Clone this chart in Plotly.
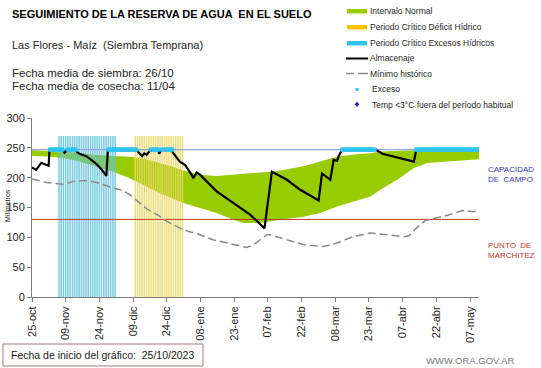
import datetime as dt
import plotly.graph_objects as go

# ---------------- data ----------------
start_date = dt.date(2023, 10, 25)
tick_days = [0, 15, 30, 45, 60, 75, 90, 105, 120, 135, 150, 165, 180, 195]
month_abbr = ["ene", "feb", "mar", "abr", "may", "jun", "jul", "ago", "sep", "oct", "nov", "dic"]

capacidad_campo = 247
punto_marchitez = 130
stripe_top = 270

band_days = [0, 7.8, 13.8, 21.2, 28.7, 36.1, 43.5, 51, 57, 62, 67.3, 74.8, 82.2, 89.6, 94.1,
             101.6, 106, 110.5, 120.9, 128.3, 135.8, 143.2, 150.7, 155.1, 162.6, 170, 176,
             184.9, 192, 199]
band_upper = [246, 245, 244, 241, 238, 236.5, 235, 231, 225, 219, 212, 205, 203, 205, 206,
              208, 210, 212, 219, 227, 235, 239, 241, 244, 245.5, 246, 246.5, 247, 247, 247]
band_lower = [236.5, 235.5, 233, 227, 219, 210, 199, 185, 174, 166, 157.5, 149, 140.7, 129.5,
              124, 124, 127, 129.5, 134.7, 140.6, 151.8, 160, 168.5, 179.7, 196.5, 216, 224.4,
              227, 229, 231]

alm_days = [0, 1.9, 4.1, 6.3, 7.4, 7.8, 13.6, 14.5, 15.5, 16, 19, 19.7, 21.2, 24.2, 26.4, 28.7,
            30.9, 33.1, 33.8, 46.5, 47.5, 49, 50, 51, 52, 53, 56.2, 56.6, 57.4, 57.7, 62.1,
            62.9, 65.8, 68.1, 71.1, 71.8, 73.3, 74.8, 82.2, 89.6, 97.1, 103, 103.5, 106.8,
            113.5, 119.4, 127.6, 129.1, 132.8, 134.3, 135.8, 136.5, 138, 152.9, 155.1, 156,
            170, 171.1, 199]
alm_vals = [217, 213, 225, 221.6, 220, 247, 247, 242, 245, 247, 247, 244, 240, 236, 230, 223,
            214, 203, 247, 247, 242, 236, 241, 238, 243, 247, 247, 240, 245, 247, 247,
            241, 227, 221.6, 204.7, 199, 208.7, 205, 177, 157, 138, 117, 115, 210,
            196.5, 179.7, 161.8, 207, 196.5, 230, 228, 235.5, 247, 247, 241, 240,
            227, 247, 247]

min_days = [0, 6.3, 13.8, 18.2, 24.2, 28.7, 36.1, 40.5, 43.5, 51, 56.9, 59.9, 67.3, 74.8, 80.5,
            89.6, 95.6, 98.6, 104.5, 106, 113.5, 120.9, 129.8, 135.8, 143.2, 150.7, 158.1,
            165.5, 168, 171, 175, 180, 185, 191.6, 196.8, 199]
min_vals = [198, 192, 189, 193.7, 195.4, 192, 182.6, 178.6, 171.4, 148, 135, 127, 112.7, 104.4,
            96, 87.6, 83, 87.6, 104.4, 104.4, 96, 87.6, 84.8, 90.5, 101.5, 107.2, 104.4,
            101, 103, 115, 128, 132, 137, 145, 143, 147]

exceso_days = ([d for d in range(8, 14)] + [d for d in range(16, 20)] + [d for d in range(34, 47)]
               + [d for d in range(53, 57)] + [d for d in range(58, 63)]
               + [d for d in range(138, 153)] + [d for d in range(171, 200)])
exceso_half = [d + 0.5 for d in exceso_days if d < 199]

excesos_period_days = list(range(12, 38))
deficit_period_days = list(range(46, 68))

# ---------------- colours ----------------
GREEN = "#99cc00"
YELLOW = "#ecd865"
BLUE_STRIPE = "#62c2dd"
CYAN = "#2fc4ee"
FONT = "Liberation Sans, Arial, sans-serif"

# ---------------- geometry helpers (layout only) ----------------
PX_L, PX_R, PX_T, PX_B = 32, 479, 118, 297
W, H = 541, 368


def px(x):
    return (x - PX_L) / (PX_R - PX_L)


def py(y):
    return (PX_B - y) / (PX_B - PX_T)


def stripes(days, top):
    xs, ys = [], []
    for d in days:
        xs += [d, d, None]
        ys += [0, top, None]
    return xs, ys


def tick_label(d):
    date = start_date + dt.timedelta(days=d)
    return f"{date.day:02d}-{month_abbr[date.month - 1]}"


fig = go.Figure()

# normal interval band
fig.add_trace(go.Scatter(
    x=band_days + band_days[::-1], y=band_upper + band_lower[::-1],
    fill="toself", fillcolor=GREEN, line=dict(width=0), mode="lines",
    hoverinfo="skip", showlegend=False))

# period stripes
bx, by = stripes(excesos_period_days, stripe_top)
fig.add_trace(go.Scatter(x=bx, y=by, mode="lines", line=dict(color=BLUE_STRIPE, width=1.5),
                         opacity=0.85, showlegend=False))
yx, yy = stripes(deficit_period_days, stripe_top)
fig.add_trace(go.Scatter(x=yx, y=yy, mode="lines", line=dict(color=YELLOW, width=1.5),
                         opacity=0.85, showlegend=False))

# reference lines
fig.add_trace(go.Scatter(x=[0, 199], y=[capacidad_campo, capacidad_campo], mode="lines",
                         line=dict(color="#8fa6d6", width=1.2), showlegend=False))
fig.add_trace(go.Scatter(x=[0, 199], y=[punto_marchitez, punto_marchitez], mode="lines",
                         line=dict(color="#c0392b", width=1), showlegend=False))

# minimum historic
fig.add_trace(go.Scatter(x=min_days, y=min_vals, mode="lines",
                         line=dict(color="#8a8a8a", width=1.5, dash="8px,4px"),
                         showlegend=False))

# almacenaje
fig.add_trace(go.Scatter(x=alm_days, y=alm_vals, mode="lines",
                         line=dict(color="black", width=2.2), showlegend=False))

# exceso markers
ex_x = sorted(exceso_days + exceso_half)
fig.add_trace(go.Scatter(x=ex_x, y=[capacidad_campo] * len(ex_x), mode="markers",
                         marker=dict(color=CYAN, size=4, symbol="square", line=dict(width=0)),
                         showlegend=False))

fig.update_xaxes(range=[0, 199], tickmode="array", tickvals=tick_days,
                 ticktext=[tick_label(d) for d in tick_days], tickangle=-90,
                 showline=True, linecolor="#7f7f7f", linewidth=1, ticks="outside",
                 ticklen=4, tickcolor="#7f7f7f", showgrid=False, zeroline=False,
                 automargin=False,
                 tickfont=dict(family=FONT, size=11, color="#262626"))
fig.update_yaxes(range=[0, 300], tickmode="array", tickvals=[0, 50, 100, 150, 200, 250, 300],
                 showline=True, linecolor="#7f7f7f", linewidth=1, ticks="outside",
                 ticklen=4, tickcolor="#7f7f7f", showgrid=False, zeroline=False,
                 automargin=False,
                 tickfont=dict(family=FONT, size=11, color="#262626"))

annotations = []
shapes = []


def text(x, y, s, size, color="#1a1a1a", anchor="left", **kw):
    annotations.append(dict(x=px(x), y=py(y), xref="paper", yref="paper", text=s,
                            showarrow=False, xanchor=anchor, yanchor="middle", align="left",
                            font=dict(family=FONT, size=size, color=color), **kw))


text(10, 14, "<b>SEGUIMIENTO DE LA RESERVA DE AGUA  EN EL SUELO</b>", 11, "#000000")
text(10, 45, "Las Flores - Maíz  (Siembra Temprana)", 11, "#262626")
text(10, 73, "Fecha media de siembra: 26/10", 11.5, "#262626")
text(10, 86, "Fecha media de cosecha: 11/04", 11.5, "#262626")

# legend
leg_items = [
    (11, "Intervalo Normal"),
    (27, "Periodo Crítico Déficit Hídrico"),
    (43, "Periodo Crítico Excesos Hídricos"),
    (58.5, "Almacenaje"),
    (73.5, "Mínimo histórico"),
    (89.5, "Exceso"),
    (104.5, "Temp <3°C fuera del período habitual"),
]
for i, (yy_, s) in enumerate(leg_items):
    xoff = 368 if i < 5 else 370
    text(xoff, yy_, s, 8.5, "#262626")


def rect(x0, y0, x1, y1, fill, line_color=None, lw=0):
    shapes.append(dict(type="rect", xref="paper", yref="paper", x0=px(x0), x1=px(x1),
                       y0=py(y0), y1=py(y1), fillcolor=fill,
                       line=dict(color=line_color or fill, width=lw)))


def hline(x0, x1, y, color, width, dash="solid"):
    shapes.append(dict(type="line", xref="paper", yref="paper", x0=px(x0), x1=px(x1),
                       y0=py(y), y1=py(y), line=dict(color=color, width=width, dash=dash)))


rect(347, 9, 367, 13.5, GREEN)
rect(347, 25, 367, 29.5, "#f5c400")
rect(347, 41, 367, 45.5, CYAN)
hline(346, 368, 58.5, "black", 2)
hline(346, 354, 73.5, "#8a8a8a", 1.5)
hline(358, 368, 73.5, "#8a8a8a", 1.5)
rect(355.5, 88, 358.5, 91, CYAN)
shapes.append(dict(type="path", xref="paper", yref="paper",
                   path=f"M {px(357)} {py(101.8)} L {px(359.3)} {py(104.3)} L {px(357)} {py(106.8)} "
                        f"L {px(354.7)} {py(104.3)} Z",
                   fillcolor="#1f2aa0", line=dict(width=0)))

# right-hand labels
text(486, 174, "CAPACIDAD<br>DE  CAMPO", 8, "#3b3bb0")
text(486, 250, "PUNTO  DE<br>MARCHITEZ", 8, "#c0392b")

# y title
annotations.append(dict(x=px(7), y=py(206), xref="paper", yref="paper", text="Milímetros",
                        showarrow=False, textangle=-90, xanchor="center", yanchor="middle",
                        font=dict(family=FONT, size=7, color="#262626")))

# footer
rect(3, 344, 203, 366, "rgba(0,0,0,0)", "#9c7b7b", 1)
text(9, 355, "Fecha de inicio del gráfico:  25/10/2023", 10.5, "#1a1a1a")
text(470, 360, "WWW.ORA.GOV.AR", 9.5, "#7a7a7a", anchor="center")

fig.update_layout(
    width=W, height=H,
    margin=dict(l=PX_L, r=W - PX_R, t=PX_T, b=H - PX_B, pad=0),
    paper_bgcolor="white", plot_bgcolor="white",
    showlegend=False, annotations=annotations, shapes=shapes,
    font=dict(family=FONT),
)

fig.write_html("out.html", config={"displayModeBar": False},
               post_script="document.body.style.margin='0';document.body.style.overflow='hidden';")
